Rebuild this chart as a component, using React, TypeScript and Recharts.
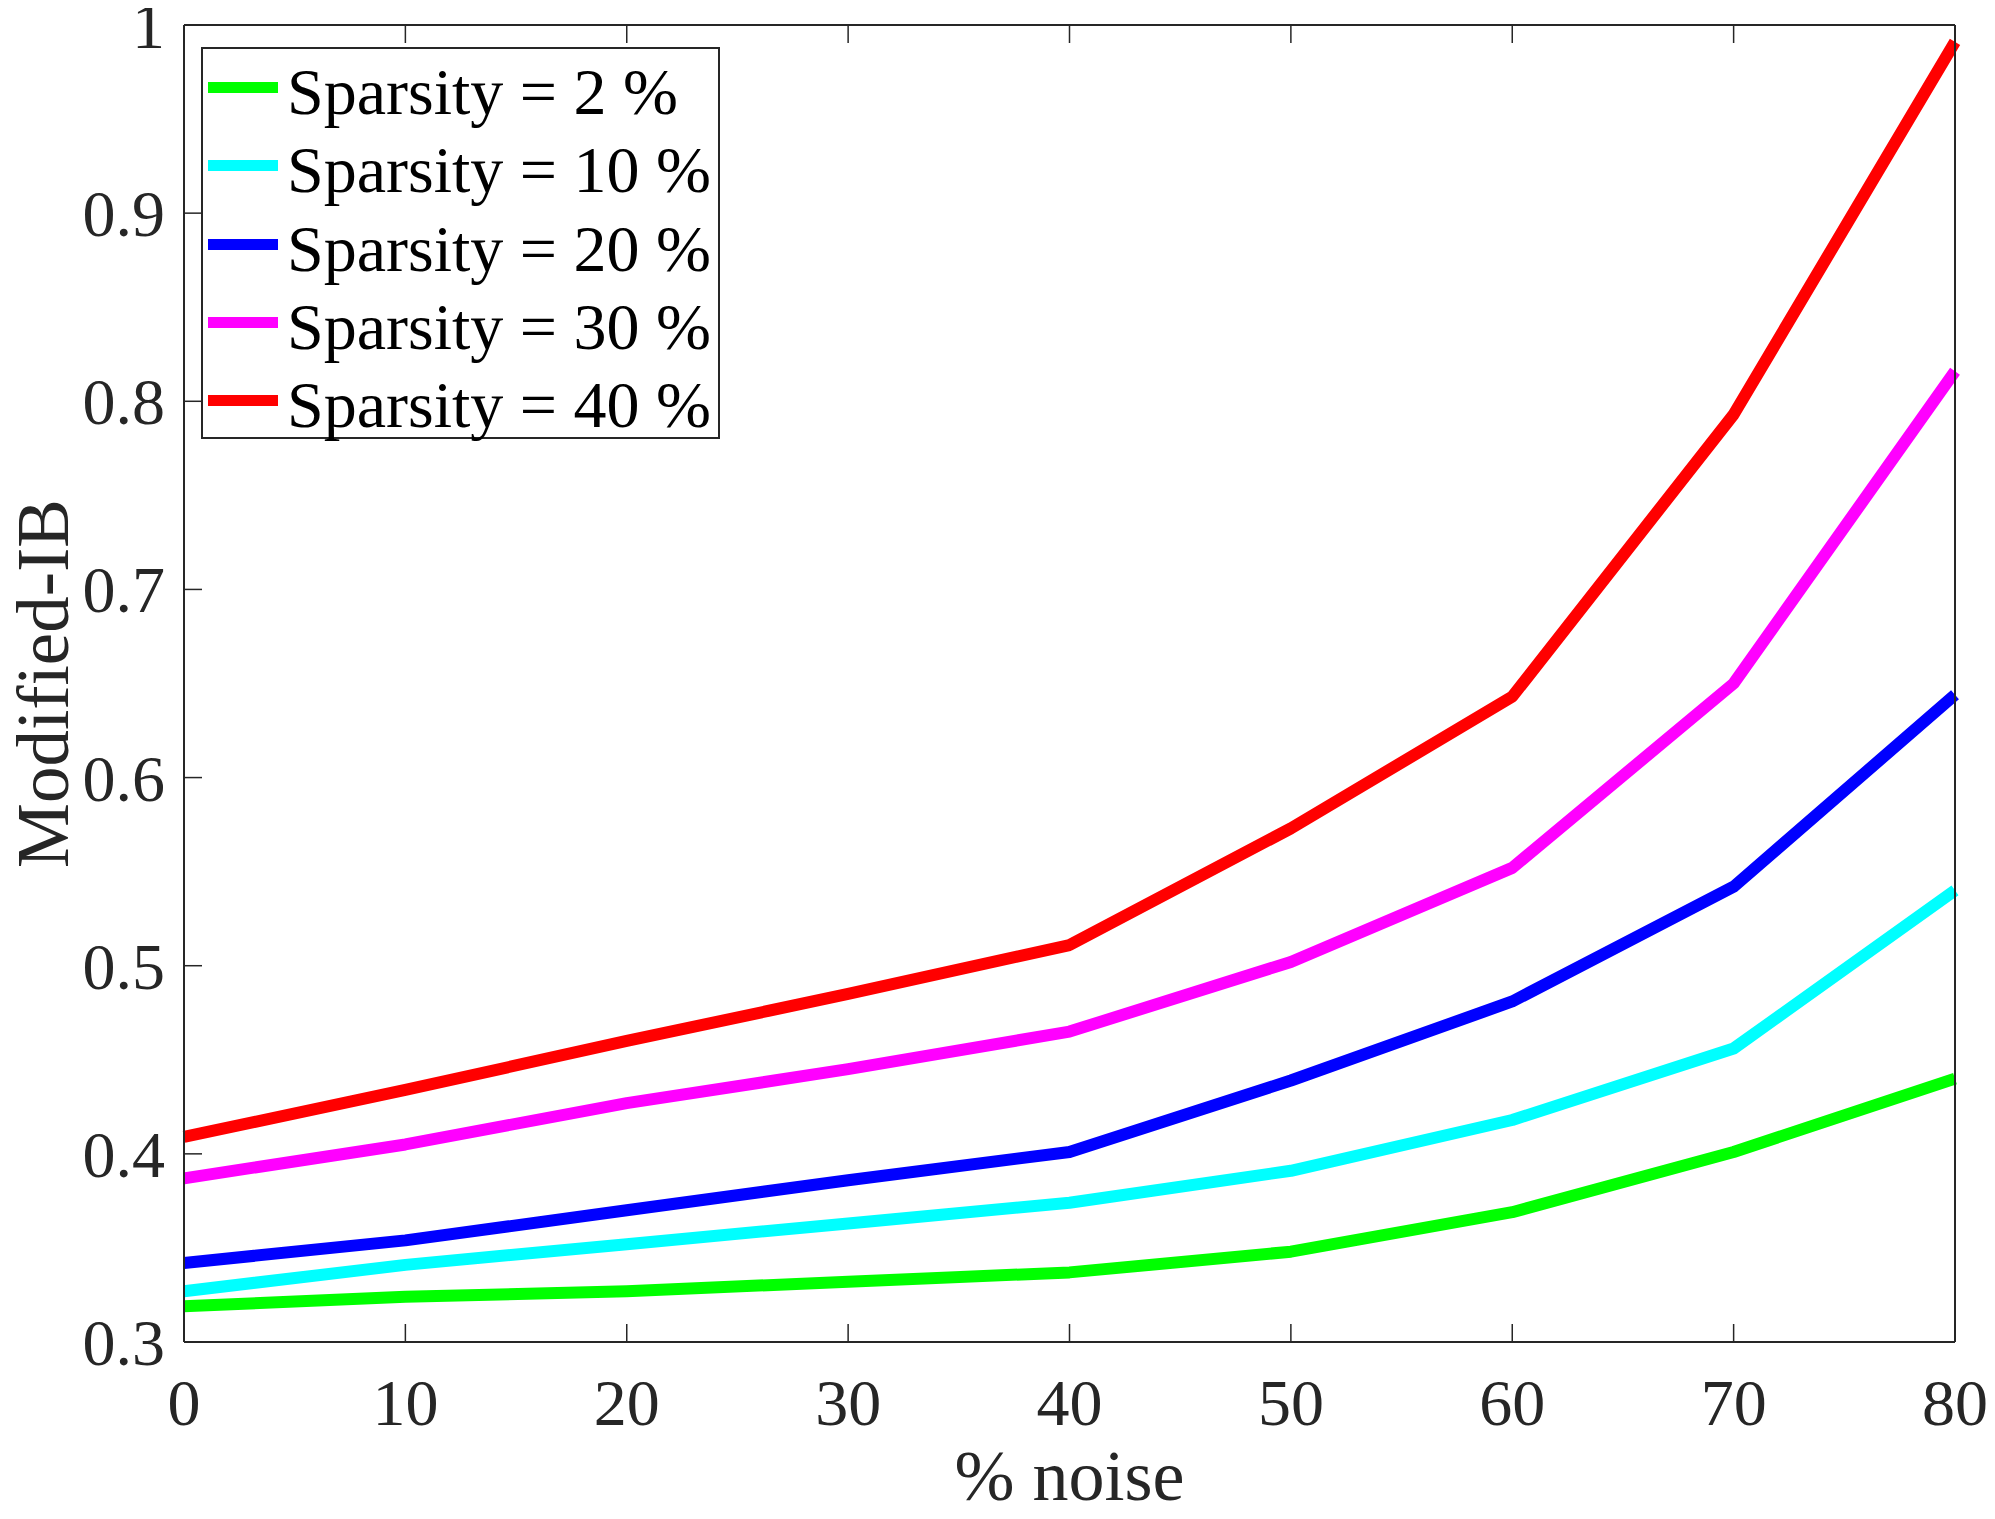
import React from "react";
import { LineChart, Line, XAxis, YAxis, Legend } from "recharts";

const noise = [0, 10, 20, 30, 40, 50, 60, 70, 80];
const sparsity2 = [0.319, 0.324, 0.327, 0.332, 0.337, 0.348, 0.369, 0.401, 0.44];
const sparsity10 = [0.327, 0.341, 0.352, 0.363, 0.374, 0.391, 0.418, 0.456, 0.54];
const sparsity20 = [0.342, 0.354, 0.37, 0.386, 0.401, 0.439, 0.481, 0.542, 0.644];
const sparsity30 = [0.387, 0.405, 0.427, 0.445, 0.465, 0.502, 0.552, 0.65, 0.816];
const sparsity40 = [0.409, 0.434, 0.46, 0.485, 0.511, 0.573, 0.643, 0.793, 0.991];

const xTicks = [0, 10, 20, 30, 40, 50, 60, 70, 80];
const yTicks = [0.3, 0.4, 0.5, 0.6, 0.7, 0.8, 0.9, 1];

const series = [
  { key: "s2", name: "Sparsity = 2 %", color: "#00ff00", values: sparsity2 },
  { key: "s10", name: "Sparsity = 10 %", color: "#00ffff", values: sparsity10 },
  { key: "s20", name: "Sparsity = 20 %", color: "#0000ff", values: sparsity20 },
  { key: "s30", name: "Sparsity = 30 %", color: "#ff00ff", values: sparsity30 },
  { key: "s40", name: "Sparsity = 40 %", color: "#ff0000", values: sparsity40 },
];

const data = noise.map((n, i) => {
  const row: Record<string, number> = { noise: n };
  series.forEach((s) => (row[s.key] = s.values[i]));
  return row;
});

const FONT = "'Liberation Serif', 'Times New Roman', serif";
const INK = "#262626";
const TICK_LEN = 18;

function BottomTick({ x, y, payload }: any) {
  return (
    <g>
      <line x1={x} y1={y} x2={x} y2={y - TICK_LEN} stroke={INK} strokeWidth={1.5} />
      <text x={x} y={y + 83} textAnchor="middle" fill={INK} fontSize={66} fontFamily={FONT}>
        {payload.value}
      </text>
    </g>
  );
}

function TopTick({ x, y }: any) {
  return <line x1={x} y1={y} x2={x} y2={y + TICK_LEN} stroke={INK} strokeWidth={1.5} />;
}

function LeftTick({ x, y, payload }: any) {
  return (
    <g>
      <line x1={x} y1={y} x2={x + TICK_LEN} y2={y} stroke={INK} strokeWidth={1.5} />
      <text x={x - 19} y={y + 23} textAnchor="end" fill={INK} fontSize={66} fontFamily={FONT}>
        {String(payload.value)}
      </text>
    </g>
  );
}

function RightTick({ x, y }: any) {
  return <line x1={x} y1={y} x2={x - TICK_LEN} y2={y} stroke={INK} strokeWidth={1.5} />;
}

function renderLegend() {
  return (
    <div
      style={{
        position: "relative",
        width: 519,
        height: 392,
        boxSizing: "border-box",
        border: `2px solid ${INK}`,
        background: "#fff",
      }}
    >
      {series.map((s, i) => (
        <div
          key={s.key}
          style={{ position: "absolute", left: 0, top: 10 + i * 78.3, height: 66, width: "100%" }}
        >
          <div
            style={{
              position: "absolute",
              left: 5,
              top: 23,
              width: 70,
              height: 11,
              background: s.color,
            }}
          />
          <span
            style={{
              position: "absolute",
              left: 84,
              top: 0,
              fontFamily: FONT,
              fontSize: 66,
              lineHeight: 1,
              color: "#000",
              whiteSpace: "nowrap",
            }}
          >
            {s.name}
          </span>
        </div>
      ))}
    </div>
  );
}

export default function App() {
  return (
    <LineChart
      width={1979}
      height={1503}
      data={data}
      margin={{ top: 15, right: 30, bottom: 0, left: 0 }}
    >
      <XAxis
        dataKey="noise"
        type="number"
        domain={[0, 80]}
        ticks={xTicks}
        height={169}
        tickSize={0}
        tickMargin={0}
        tickLine={false}
        axisLine={{ stroke: INK, strokeWidth: 2 }}
        tick={BottomTick}
        interval={0}
        label={(props: any) => {
          const vb = props.viewBox;
          return (
            <text
              x={vb.x + vb.width / 2}
              y={vb.y + 158}
              textAnchor="middle"
              fill={INK}
              fontSize={72}
              fontFamily={FONT}
            >
              % noise
            </text>
          );
        }}
      />
      <XAxis
        xAxisId="top"
        orientation="top"
        dataKey="noise"
        type="number"
        domain={[0, 80]}
        ticks={xTicks}
        height={2}
        tickSize={0}
        tickMargin={0}
        tickLine={false}
        axisLine={{ stroke: INK, strokeWidth: 2 }}
        tick={TopTick}
        interval={0}
      />
      <YAxis
        type="number"
        domain={[0.3, 1]}
        ticks={yTicks}
        width={176}
        tickSize={0}
        tickMargin={0}
        tickLine={false}
        axisLine={{ stroke: INK, strokeWidth: 2 }}
        tick={LeftTick}
        interval={0}
        label={(props: any) => {
          const vb = props.viewBox;
          const cy = vb.y + vb.height / 2;
          return (
            <text
              x={60}
              y={cy}
              transform={`rotate(-90, 60, ${cy})`}
              textAnchor="middle"
              fill={INK}
              fontSize={73}
              fontFamily={FONT}
            >
              Modified-IB
            </text>
          );
        }}
      />
      <YAxis
        yAxisId="right"
        orientation="right"
        type="number"
        domain={[0.3, 1]}
        ticks={yTicks}
        width={2}
        tickSize={0}
        tickMargin={0}
        tickLine={false}
        axisLine={{ stroke: INK, strokeWidth: 2 }}
        tick={RightTick}
        interval={0}
      />
      <Legend
        layout="vertical"
        align="center"
        verticalAlign="middle"
        content={renderLegend}
        wrapperStyle={{ left: 193, top: 39, width: 519, height: 392 }}
      />
      {series.map((s) => (
        <Line
          key={s.key}
          dataKey={s.key}
          name={s.name}
          type="linear"
          stroke={s.color}
          strokeWidth={12}
          strokeLinejoin="round"
          dot={false}
          activeDot={false}
          isAnimationActive={false}
        />
      ))}
    </LineChart>
  );
}
